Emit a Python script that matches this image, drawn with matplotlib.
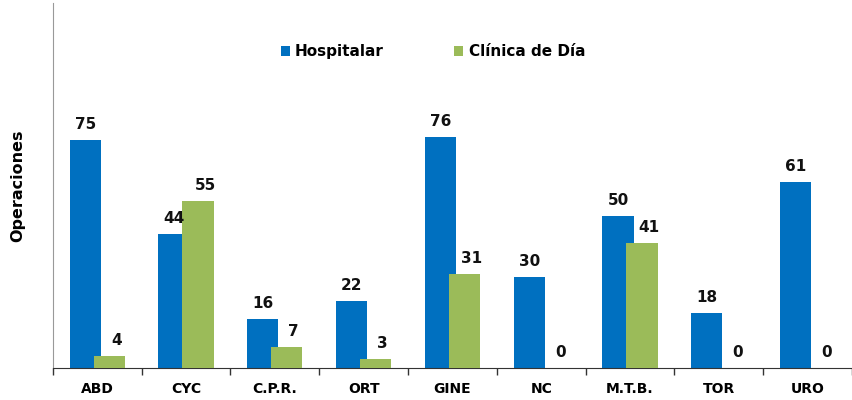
import matplotlib.pyplot as plt
import numpy as np

categories = ["ABD", "CYC", "C.P.R.", "ORT", "GINE", "NC", "M.T.B.", "TOR", "URO"]
hospitalar = [75, 44, 16, 22, 76, 30, 50, 18, 61]
clinica_dia = [4, 55, 7, 3, 31, 0, 41, 0, 0]

BLUE = "#0070C0"
GREEN = "#9BBB59"

plt.rcParams["font.family"] = ["DejaVu Sans"]

fig = plt.figure(figsize=(8.52, 4.0), dpi=100)
ax = fig.add_axes([0.062, 0.08, 0.938, 0.9125])

x = np.arange(len(categories))
width = 0.35
offset = 0.135

bars_h = ax.bar(x - offset, hospitalar, width, color=BLUE, label="Hospitalar", zorder=2)
bars_c = ax.bar(x + offset, clinica_dia, width, color=GREEN, label="Clínica de Día", zorder=3)

# value labels, green ones sit a little to the right like the original
for bars, dx in ((bars_h, 0), (bars_c, 7)):
    for b in bars:
        h = b.get_height()
        ax.annotate(f"{h:g}", (b.get_x() + b.get_width() / 2, h),
                    xytext=(dx, 8), textcoords="offset pixels",
                    ha="center", va="bottom", fontsize=11, fontweight="bold",
                    color="#111111", zorder=4)

ax.set_xlim(-0.5, len(categories) - 0.5)
ax.set_ylim(0, 120)

ax.set_xticks(x)
ax.set_xticklabels(categories, fontsize=10, fontweight="bold")
ax.set_xticks(np.arange(len(categories) + 1) - 0.5, minor=True)
ax.tick_params(axis="x", which="major", length=0, pad=10)
ax.tick_params(axis="x", which="minor", length=5, width=1, direction="out", color="#333333")
ax.set_yticks([])

ax.spines["top"].set_visible(False)
ax.spines["right"].set_visible(False)
ax.spines["left"].set_color("#999999")
ax.spines["bottom"].set_color("#333333")

ax.set_ylabel("Operaciones", fontsize=11.5, fontweight="bold", labelpad=20)

ax.legend(loc="center", bbox_to_anchor=(0.4756, 0.866), ncol=2, frameon=False,
          handlelength=0.6, handleheight=0.6, handletextpad=0.35, columnspacing=4.6,
          prop={"size": 11, "weight": "bold"})

fig.savefig("out.png", dpi=100)
